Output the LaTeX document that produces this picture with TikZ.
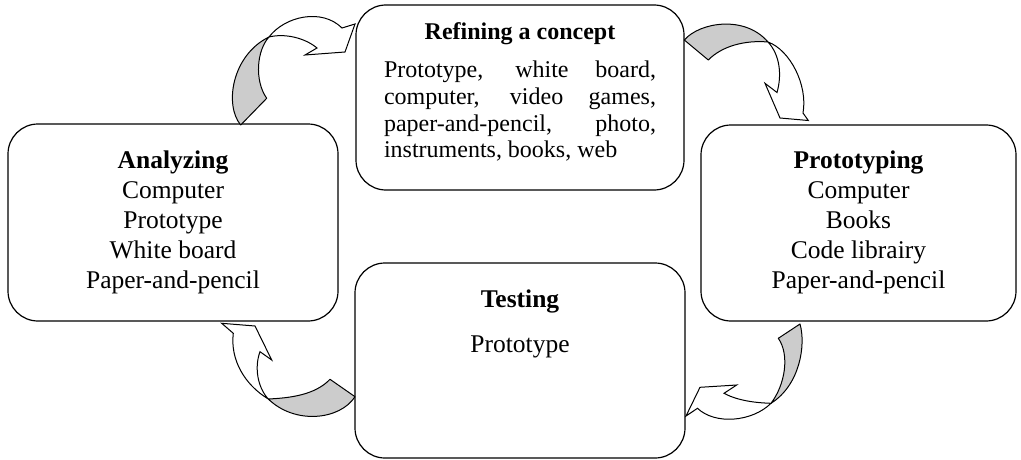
\documentclass[tikz,border=0pt]{standalone}
\usepackage{fontspec}
\setmainfont{Liberation Serif}
\usetikzlibrary{positioning}

\begin{document}
\begin{tikzpicture}[x=1pt, y=-1pt, font=\fontsize{25.5}{30}\selectfont,
	stage/.style={draw, line width=1.2pt, rounded corners=30pt, inner sep=0pt},
	stagetext/.style={inner sep=0pt, align=center},
	backpart/.style={draw, fill=gray!40, line width=1pt, line join=round},
	frontpart/.style={draw, fill=white, line width=1pt, line join=miter}]
	\useasboundingbox (0,0) rectangle (1021,460);
	%boxes
	\node[stage, minimum width=328pt, minimum height=185pt] (refine) at (520,97.5) {};
	\node[stage, minimum width=330pt, minimum height=197pt] (analyze) at (173,222.5) {};
	\node[stage, minimum width=315pt, minimum height=196pt] (proto) at (858.5,223) {};
	\node[stage, minimum width=330pt, minimum height=195pt] (test) at (520,360.5) {};
	%labels
	\node[stagetext, below=17.6pt of refine.north, font=\fontsize{24}{26.7}\selectfont] (refinetxt) {%
		\textbf{Refining a concept}\\[12pt]
		\makebox[272pt][s]{Prototype, white board,}\\
		\makebox[272pt][s]{computer, video games,}\\
		\makebox[272pt][s]{paper-and-pencil, photo,}\\
		\makebox[272pt][l]{instruments, books, web}};
	\node[stagetext, below=27.6pt of analyze.north] (analyzetxt) {%
		\textbf{Analyzing}\\ Computer\\ Prototype\\ White board\\ Paper-and-pencil};
	\node[stagetext, below=26.6pt of proto.north] (prototxt) {%
		\textbf{Prototyping}\\ Computer\\ Books\\ Code librairy\\ Paper-and-pencil};
	\node[stagetext, below=27.6pt of test.north] (testtxt) {%
		\textbf{Testing}\\[15pt] Prototype};
	%arrows
	% analyzing -> refining
	\draw[backpart] (240.7,125) .. controls (224,105) and (232,55) .. (269,37)
		.. controls (257,50) and (254,80) .. (266.7,98.3) -- cycle;
	\draw[frontpart] (269,37) .. controls (285,16) and (322,8) .. (342,28)
		-- (355,24) -- (345,52) -- (305,55) -- (317,48)
		.. controls (305,38) and (285,33) .. (269,37) -- cycle;
	% refining -> prototyping
	\draw[backpart] (684.3,40) .. controls (700,22) and (745,15) .. (768,42)
		.. controls (745,40) and (722,46) .. (708.3,60) -- cycle;
	\draw[frontpart] (768,42) .. controls (790,50) and (808,85) .. (803,113)
		-- (808.3,120.5) -- (780,118) -- (765,83.3) -- (777,92.5)
		.. controls (782,75) and (780,55) .. (768,42) -- cycle;
	% prototyping -> testing
	\draw[backpart] (800,324) .. controls (806,345) and (800,385) .. (771,403.3)
		.. controls (785,385) and (790,355) .. (778.3,338.3) -- cycle;
	\draw[frontpart] (771,403.3) .. controls (762,403) and (740,402) .. (724,393.3)
		-- (736.7,385) -- (700,387.3) -- (686,416) -- (697.5,408.3)
		.. controls (715,425) and (752,422) .. (771,403.3) -- cycle;
	% testing -> analyzing
	\draw[backpart] (355,396.7) .. controls (340,420) and (295,425) .. (268.3,399)
		.. controls (290,398) and (315,395) .. (330,379.3) -- cycle;
	\draw[frontpart] (268.3,399) .. controls (245,385) and (230,360) .. (233.3,333.3)
		-- (221.7,323.3) -- (255,326) -- (271.7,360) -- (260,351.7)
		.. controls (254,368) and (258,388) .. (268.3,399) -- cycle;
\end{tikzpicture}
\end{document}
